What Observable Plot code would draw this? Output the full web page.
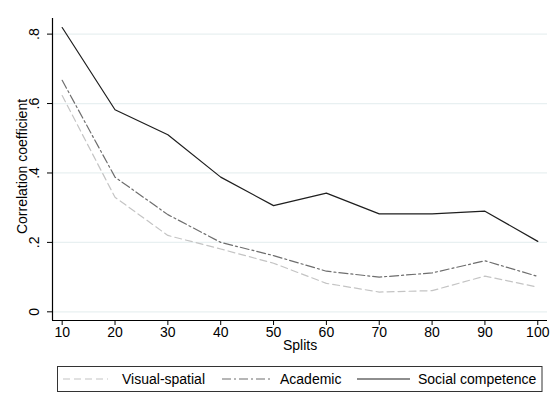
<!DOCTYPE html>
<html>
<head>
<meta charset="utf-8">
<script src="https://cdn.jsdelivr.net/npm/d3@7"></script>
<script src="https://cdn.jsdelivr.net/npm/@observablehq/plot@0.6"></script>
<style>
  html, body { margin: 0; padding: 0; background: #fff; }
  #chart { width: 558px; height: 396px; position: relative; font-family: "Liberation Sans", Arial, sans-serif; }
  svg { display: block; }
</style>
</head>
<body>
<div id="chart"></div>
<script>
// ---- data ----
const splits = [10, 20, 30, 40, 50, 60, 70, 80, 90, 100];
const seriesNames = ["Visual-spatial", "Academic", "Social competence"];
const visual   = [0.623, 0.330, 0.220, 0.181, 0.140, 0.082, 0.057, 0.061, 0.103, 0.071];
const academic = [0.667, 0.388, 0.280, 0.200, 0.162, 0.117, 0.100, 0.112, 0.147, 0.102];
const social   = [0.819, 0.582, 0.510, 0.388, 0.306, 0.342, 0.282, 0.282, 0.290, 0.203];
const yTicks = [0, 0.2, 0.4, 0.6, 0.8];
const yTickLabels = ["0", ".2", ".4", ".6", ".8"];
const xTitle = "Splits";
const yTitle = "Correlation coefficient";

// ---- styles ----
const styles = [
  {stroke: "#c4c4c4", dash: "7,4", width: 1.2},
  {stroke: "#6e6e6e", dash: "9,3,2,3", width: 1.2},
  {stroke: "#1e1e1e", dash: null, width: 1.2}
];
const seriesValues = [visual, academic, social];
const rows = [];
seriesNames.forEach((name, s) => splits.forEach((x, i) => rows.push({series: name, s, x, y: seriesValues[s][i]})));

const xDomain = [8.17, 101.84];
const yDomain = [-0.025, 0.845];
const font = "'Liberation Sans', Arial, sans-serif";
const fs = 14;

const lineMarks = seriesNames.map((name, s) =>
  Plot.line(rows.filter(r => r.s === s), {
    x: "x", y: "y",
    stroke: styles[s].stroke,
    strokeWidth: styles[s].width,
    strokeDasharray: styles[s].dash || undefined
  })
);

const plot = Plot.plot({
  width: 558,
  height: 362,
  marginLeft: 52,
  marginRight: 11,
  marginTop: 18,
  marginBottom: 42,
  style: {fontFamily: font, fontSize: fs + "px", background: "#fff", color: "#000"},
  x: {domain: xDomain},
  y: {domain: yDomain},
  marks: [
    Plot.ruleY(yTicks, {stroke: "#e8f0f1", strokeWidth: 1.2}),
    ...lineMarks,
    Plot.ruleX([xDomain[0]], {stroke: "#000", strokeWidth: 1.2}),
    Plot.ruleY([yDomain[0]], {stroke: "#000", strokeWidth: 1.2}),
    Plot.axisX({ticks: splits, tickSize: 5, tickPadding: 2, tickFormat: d => String(d), label: null, fontSize: fs, stroke: "#000"}),
    Plot.axisY({ticks: yTicks, tickSize: 5, tickFormat: () => "", label: null, stroke: "#000"}),
    Plot.text(yTicks, {y: d => d, text: (d, i) => yTickLabels[i], frameAnchor: "left", textAnchor: "middle", dx: -18, rotate: -90, fontSize: fs, fill: "#000"}),
    Plot.text([yTitle], {text: d => d, frameAnchor: "left", textAnchor: "middle", dx: -30, dy: -3, rotate: -90, fontSize: fs, fill: "#000"}),
    Plot.text([xTitle], {text: d => d, frameAnchor: "bottom", dy: 29, fontSize: fs, fill: "#000"})
  ]
});
document.getElementById("chart").appendChild(plot);

// ---- legend (below the plot) ----
const leg = d3.select("#chart").append("svg")
  .attr("width", 558).attr("height", 34)
  .style("font-family", font).style("font-size", fs + "px");
leg.append("rect").attr("x", 57.5).attr("y", 4.5).attr("width", 484.5).attr("height", 25)
  .attr("fill", "#fff").attr("stroke", "#333").attr("stroke-width", 1);
const legItems = [
  {x1: 63, x2: 108, tx: 122},
  {x1: 222, x2: 272, tx: 280},
  {x1: 357, x2: 410, tx: 418}
];
seriesNames.forEach((name, s) => {
  const it = legItems[s];
  leg.append("line").attr("x1", it.x1).attr("x2", it.x2).attr("y1", 17).attr("y2", 17)
    .attr("stroke", styles[s].stroke).attr("stroke-width", styles[s].width)
    .attr("stroke-dasharray", styles[s].dash);
  leg.append("text").attr("x", it.tx).attr("y", 17).attr("dy", "0.35em").attr("fill", "#000").text(name);
});
</script>
</body>
</html>
